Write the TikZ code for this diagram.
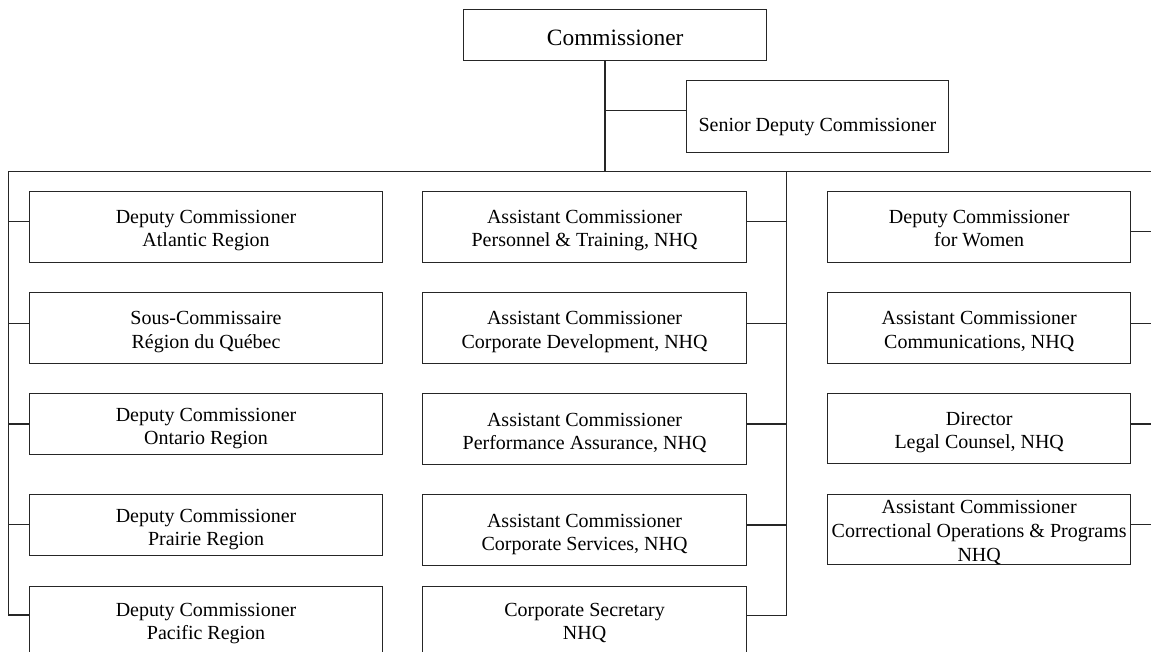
\documentclass[tikz,border=0pt]{standalone}
\usepackage{fontspec}
\setmainfont{Liberation Serif}
\begin{document}
\begin{tikzpicture}[x=1pt,y=-1pt,
  box/.style={draw=black!85, line width=1.1pt, rectangle, inner sep=0pt, anchor=north west},
  txt/.style={inner sep=0pt, align=center, font=\fontsize{20}{23.2}\selectfont, anchor=north},
  link/.style={draw=black!85, line width=1.1pt}]
\useasboundingbox (0,0) rectangle (1151,651);
\clip (0,0) rectangle (1151,651);
% top boxes
\node[box, minimum width=302.7pt, minimum height=50.7pt] (comm) at (463.3,9.3) {};
\node[txt, anchor=base, font=\fontsize{23.4}{27}\selectfont] (commT) at (comm.north |- 0,45) {Commissioner};
\node[box, minimum width=262.3pt, minimum height=71.7pt] (sdc) at (685.7,80) {};
\node[txt, anchor=base] (sdcT) at (sdc.north |- 0,131.5) {Senior Deputy Commissioner};
% left column
\node[box, minimum width=353.6pt, minimum height=70.7pt] (atl) at (28.7,191) {};
\node[box, minimum width=353.6pt, minimum height=70.4pt] (que) at (28.7,292.3) {};
\node[box, minimum width=353.6pt, minimum height=61pt] (ont) at (28.7,393.3) {};
\node[box, minimum width=353.6pt, minimum height=60.7pt] (pra) at (28.7,494.3) {};
\node[box, minimum width=353.6pt, minimum height=70.3pt] (pac) at (28.7,585.7) {};
% middle column
\node[box, minimum width=323.4pt, minimum height=70.7pt] (per) at (422.3,191) {};
\node[box, minimum width=323.4pt, minimum height=70.4pt] (cdev) at (422.3,292.3) {};
\node[box, minimum width=323.4pt, minimum height=70.7pt] (perf) at (422.3,393.3) {};
\node[box, minimum width=323.4pt, minimum height=70.7pt] (csrv) at (422.3,494.3) {};
\node[box, minimum width=323.4pt, minimum height=70.3pt] (csec) at (422.3,585.7) {};
% right column
\node[box, minimum width=302.7pt, minimum height=70.7pt] (wom) at (827.3,191) {};
\node[box, minimum width=302.7pt, minimum height=70.4pt] (comms) at (827.3,292.3) {};
\node[box, minimum width=302.7pt, minimum height=70pt] (dir) at (827.3,393.3) {};
\node[box, minimum width=302.7pt, minimum height=70.3pt] (cor) at (827.3,494) {};
% texts
\node[txt] (atlT) at ([yshift=16.6pt]atl.center) {Deputy Commissioner\\Atlantic Region};
\node[txt] (queT) at ([yshift=16.6pt]que.center) {Sous-Commissaire\\Région du Québec};
\node[txt] (ontT) at ([yshift=16.6pt]ont.center) {Deputy Commissioner\\Ontario Region};
\node[txt] (praT) at ([yshift=16.6pt]pra.center) {Deputy Commissioner\\Prairie Region};
\node[txt] (pacT) at ([yshift=18.3pt]pac.center) {Deputy Commissioner\\Pacific Region};
\node[txt] (perT) at ([yshift=16.6pt]per.center) {Assistant Commissioner\\Personnel \& Training, NHQ};
\node[txt] (cdevT) at ([yshift=16.6pt]cdev.center) {Assistant Commissioner\\Corporate Development, NHQ};
\node[txt] (perfT) at ([yshift=16.6pt]perf.center) {Assistant Commissioner\\Performance Assurance, NHQ};
\node[txt] (csrvT) at ([yshift=16.6pt]csrv.center) {Assistant Commissioner\\Corporate Services, NHQ};
\node[txt] (csecT) at ([yshift=18.3pt]csec.center) {Corporate Secretary\\NHQ};
\node[txt] (womT) at ([yshift=16.6pt]wom.center) {Deputy Commissioner\\for Women};
\node[txt] (commsT) at ([yshift=16.6pt]comms.center) {Assistant Commissioner\\Communications, NHQ};
\node[txt] (dirT) at ([yshift=16.6pt]dir.center) {Director\\Legal Counsel, NHQ};
\node[txt, font=\fontsize{20}{24}\selectfont] (corT) at ([yshift=-5.6pt]cor.north) {Assistant Commissioner\\Correctional Operations \& Programs\\NHQ};
% connector coordinates
\coordinate (J) at (605,171.7);
\coordinate (LT) at (8.3,171.7);
\coordinate (LB) at (8.3,615);
\coordinate (MT) at (786.7,171.7);
\coordinate (MB) at (786.7,615.7);
\coordinate (RT) at (1165,171.7);
% connectors
\draw[link] (comm.south -| J) -- (J);
\draw[link] (J |- 0,110.7) -- (sdc.west |- 0,110.7);
\draw[link] (LT) -- (RT);
\draw[link] (LT) -- (LB);
\draw[link] (MT) -- (MB);
\draw[link] (atl.west |- 0,221.7) -- (LT |- 0,221.7);
\draw[link] (que.west |- 0,323.3) -- (LT |- 0,323.3);
\draw[link] (ont.west |- 0,424) -- (LT |- 0,424);
\draw[link] (pra.west |- 0,524.3) -- (LT |- 0,524.3);
\draw[link] (pac.west |- 0,615) -- (LB);
\draw[link] (per.east |- 0,221.7) -- (MT |- 0,221.7);
\draw[link] (cdev.east |- 0,323.3) -- (MT |- 0,323.3);
\draw[link] (perf.east |- 0,424) -- (MT |- 0,424);
\draw[link] (csrv.east |- 0,525) -- (MT |- 0,525);
\draw[link] (csec.east |- 0,615.7) -- (MB);
\draw[link] (wom.east |- 0,231.7) -- (RT |- 0,231.7);
\draw[link] (comms.east |- 0,323.3) -- (RT |- 0,323.3);
\draw[link] (dir.east |- 0,424) -- (RT |- 0,424);
\draw[link] (cor.east |- 0,524.3) -- (RT |- 0,524.3);
\end{tikzpicture}
\end{document}
